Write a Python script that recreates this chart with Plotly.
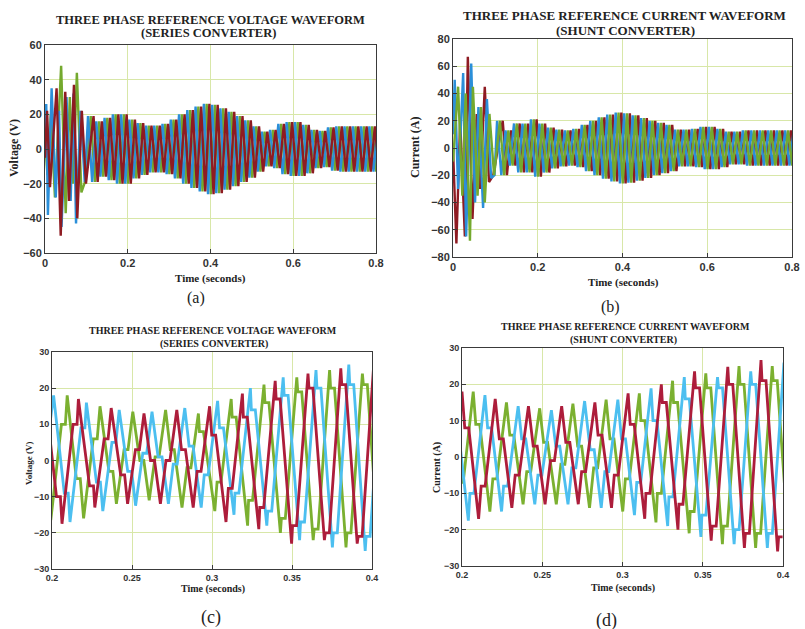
import plotly.graph_objects as go

W, H = 805, 629

# ---------------- data: panels (a) and (b) ----------------
# start-up transient extremes (time s, value) per phase
A_BLUE_T = [0.000, 0.003, 0.007, 0.016, 0.026, 0.034, 0.040, 0.052, 0.062, 0.069, 0.075, 0.086, 0.096]
A_BLUE_V = [0, 26, -38, 35, -28, 22, -45, 30, -30, 32, -43, 22, -19]
A_GREEN_T = [0.000, 0.006, 0.014, 0.024, 0.039, 0.050, 0.060, 0.068, 0.077, 0.088, 0.098]
A_GREEN_V = [5, -15, 20, -28, 48, -37, 30, -20, 44, -25, -18]
A_RED_T = [0.000, 0.005, 0.012, 0.028, 0.038, 0.049, 0.058, 0.070, 0.078, 0.089, 0.099]
A_RED_V = [-5, 22, -22, 35, -50, 33, -30, 37, -40, 22, -20]

B_BLUE_T = [0.000, 0.004, 0.012, 0.024, 0.031, 0.043, 0.052, 0.060, 0.071, 0.080, 0.090, 0.098]
B_BLUE_V = [10, 50, -30, 55, -65, 62, -40, 30, -44, 36, -22, -20]
B_RED_T = [0.000, 0.008, 0.017, 0.028, 0.035, 0.046, 0.056, 0.064, 0.075, 0.085, 0.095]
B_RED_V = [0, -70, 20, -65, 67, -52, 25, -30, 45, -25, -20]
B_GREEN_T = [0.000, 0.012, 0.022, 0.030, 0.040, 0.047, 0.058, 0.066, 0.075, 0.086, 0.097]
B_GREEN_V = [-10, 45, -35, 40, -68, 45, -35, 30, -40, 25, -20]

# steady-state peak amplitude of each 0.02 s cycle, from 0.10 s to 0.80 s
AB_CYCLE_START = 0.10
AB_PERIOD = 0.02
AMP_A = [19, 16, 18, 20, 20, 17, 15, 13.5, 13.5, 14.5, 17, 20, 22.5, 24.5, 26, 25.5, 23.5, 21.5,
         19, 16.5, 13, 10, 11, 14.5, 15.5, 15.5, 14, 11, 10.5, 12.5, 13, 13, 13, 13, 13, 13]
AMP_B = [20, 13, 18, 18, 21, 18, 15, 13.5, 13, 14, 17, 20, 22.5, 24.5, 26, 25.5, 24, 22,
         20, 18.5, 17, 13.5, 13.5, 14, 15.5, 15.5, 14, 12, 12, 13, 13, 13, 13, 13, 13, 13]
AB_OFFSETS = {"blue": 0.004, "green": 0.0107, "red": 0.0173}

# ---------------- data: panels (c) and (d) ----------------
# per cycle (k = -1 .. 9): peak, trough, stall level on falling edge, stall level on rising edge
C_PERIOD = 0.0205
C_T0 = {"green": 0.2095, "red": 0.2165, "cyan": 0.2215}
C_GREEN_P = [18, 18, 15, 13.5, 14, 13, 17, 21, 23, 25, 24]
C_GREEN_Q = [-16.5, -16, -12, -11, -13, -14, -18, -20, -22, -24, -25]
C_GREEN_S1 = [-8, -5, -3, 0, 3, 8, 12, 16, 19, 20, 21]
C_GREEN_S2 = [10, 6, 3, 1, -2, -6, -11, -16, -19, -20, -21]
C_RED_P = [17, 17, 14.5, 13, 14, 15, 18.5, 22, 24, 25.5, 26]
C_RED_Q = [-17.5, -13, -12, -12, -13, -17, -19, -23, -22, -23, -25]
C_RED_S1 = [-10, -7, -4, 0, 3, 7, 12, 17, 20, 21, 21]
C_RED_S2 = [10, 6, 3, 0, -3, -7.7, -13, -18, -20, -21, -21]
C_CYAN_P = [18, 16, 14, 13.5, 14.5, 16.5, 20, 23, 25, 26.5, 26]
C_CYAN_Q = [-17, -14, -12.5, -12, -13, -15, -18, -22, -24, -25, -25]
C_CYAN_S1 = [-9, -6, -3, 1, 4, 9, 14, 18, 20, 21, 22]
C_CYAN_S2 = [9, 5, 2, -1, -4, -9, -14, -17, -20, -21, -22]

D_PERIOD = 0.0207
D_T0 = {"red": 0.2000, "green": 0.2070, "cyan": 0.2143}
D_RED_P = [18, 18, 16, 14, 14, 15, 17.5, 20, 23.6, 24.8, 26.7]
D_RED_Q = [-17, -17, -14, -13, -13, -14, -17, -20, -23, -25, -26]
D_RED_S1 = [9, 8, 5, 3, 4, 6, 9, 15, 19, 20, 21]
D_RED_S2 = [-9, -8, -5, -1, -4, -5, -10, -13, -19, -21, -22]
D_GREEN_P = [17, 18, 15, 13.4, 14.7, 15.8, 17.5, 21, 23, 25, 25]
D_GREEN_Q = [-16.5, -15, -13, -13, -14, -15, -18, -21, -24, -25, -25]
D_GREEN_S1 = [10, 9, 6, 4, 3, 5, 10, 15, 19, 20, 21]
D_GREEN_S2 = [-7, -6, -4, -2, -3, -6, -10, -15, -19, -21, -22]
D_CYAN_P = [17.5, 17, 14, 12.9, 15.4, 15.8, 18.9, 22, 22, 23.6, 26]
D_CYAN_Q = [-17.5, -15, -13, -13, -14, -16, -19, -22, -24, -25, -26]
D_CYAN_S1 = [9, 8, 5, 3, 2, 5, 10, 16, 19, 20, 21]
D_CYAN_S2 = [-10, -8, -5, -3, -4, -7, -11, -16, -20, -21, -22]

# ---------------- text ----------------
TITLE_V = "THREE PHASE REFERENCE VOLTAGE WAVEFORM"
TITLE_I = "THREE PHASE REFERENCE CURRENT WAVEFORM"
SUB_SERIES = "(SERIES CONVERTER)"
SUB_SHUNT = "(SHUNT CONVERTER)"
XLAB = "Time (seconds)"

# ---------------- colours ----------------
AB_COL = {"blue": "#2b8fd9", "green": "#74a92e", "red": "#8e1b22"}
CD_COL = {"cyan": "#4cbff0", "green": "#7bb030", "red": "#ad1d3b"}
GRID = "#d8e7a8"


def ab_wave(tt, tv, amps, off):
    t = list(tt)
    v = list(tv)
    for k, a in enumerate(amps):
        tp = AB_CYCLE_START + off + k * AB_PERIOD
        t += [tp, tp + AB_PERIOD / 2]
        v += [a, -a]
    return t, v


def cd_wave(t0, T, P, Q, S1, S2):
    def clip(x):
        return min(max(x, 0.09), 0.41)
    t, v = [], []
    n = len(P)
    first = t0 - T
    t.append(first - 0.5 * T)
    v.append(Q[0])
    for i in range(n):
        tp = t0 + (i - 1) * T
        p, q, s1, s2 = P[i], Q[i], S1[i], S2[i]
        pn = P[i + 1] if i + 1 < n else p
        c1 = clip(0.5 * (p - s1) / (p - q))
        c2 = clip(0.5 * (s2 - q) / (pn - q))
        t += [tp, tp + (c1 - 0.06) * T, tp + (c1 + 0.06) * T, tp + 0.5 * T,
              tp + (0.5 + c2 - 0.06) * T, tp + (0.5 + c2 + 0.06) * T]
        v += [p, s1, s1, q, s2, s2]
    return t, v


fig = go.Figure()

# panel (a)
for name, tt, tv in [("green", A_GREEN_T, A_GREEN_V), ("blue", A_BLUE_T, A_BLUE_V), ("red", A_RED_T, A_RED_V)]:
    t, v = ab_wave(tt, tv, AMP_A, AB_OFFSETS[name])
    fig.add_trace(go.Scatter(x=t, y=v, mode="lines", line=dict(color=AB_COL[name], width=2.4),
                             xaxis="x", yaxis="y", showlegend=False, hoverinfo="skip"))
# panel (b)
for name, tt, tv in [("red", B_RED_T, B_RED_V), ("blue", B_BLUE_T, B_BLUE_V), ("green", B_GREEN_T, B_GREEN_V)]:
    t, v = ab_wave(tt, tv, AMP_B, AB_OFFSETS[name])
    fig.add_trace(go.Scatter(x=t, y=v, mode="lines", line=dict(color=AB_COL[name], width=2.4),
                             xaxis="x2", yaxis="y2", showlegend=False, hoverinfo="skip"))
# panel (c)
for name, P, Q, S1, S2 in [("green", C_GREEN_P, C_GREEN_Q, C_GREEN_S1, C_GREEN_S2),
                           ("cyan", C_CYAN_P, C_CYAN_Q, C_CYAN_S1, C_CYAN_S2),
                           ("red", C_RED_P, C_RED_Q, C_RED_S1, C_RED_S2)]:
    t, v = cd_wave(C_T0[name], C_PERIOD, P, Q, S1, S2)
    fig.add_trace(go.Scatter(x=t, y=v, mode="lines", line=dict(color=CD_COL[name], width=2.8),
                             xaxis="x3", yaxis="y3", showlegend=False, hoverinfo="skip"))
# panel (d)
for name, P, Q, S1, S2 in [("green", D_GREEN_P, D_GREEN_Q, D_GREEN_S1, D_GREEN_S2),
                           ("cyan", D_CYAN_P, D_CYAN_Q, D_CYAN_S1, D_CYAN_S2),
                           ("red", D_RED_P, D_RED_Q, D_RED_S1, D_RED_S2)]:
    t, v = cd_wave(D_T0[name], D_PERIOD, P, Q, S1, S2)
    fig.add_trace(go.Scatter(x=t, y=v, mode="lines", line=dict(color=CD_COL[name], width=2.8),
                             xaxis="x4", yaxis="y4", showlegend=False, hoverinfo="skip"))


def px(x):
    return x / W


def py(y):
    return 1 - y / H


def axis(domain, rng, dtick, anchor, fsize, tickvals=None, ticktext=None):
    d = dict(domain=domain, range=rng, anchor=anchor, showline=True, linecolor="#3a3a3a",
             linewidth=1, mirror=True, ticks="inside", ticklen=4, tickcolor="#3a3a3a",
             showgrid=True, gridcolor=GRID, gridwidth=1, zeroline=False, automargin=False,
             tickfont=dict(family="Liberation Sans", size=fsize, color="#333333", weight="bold"))
    if tickvals is not None:
        d.update(tickmode="array", tickvals=tickvals, ticktext=ticktext)
    else:
        d.update(dtick=dtick, tick0=rng[0])
    return d


layout = dict(
    width=W, height=H, margin=dict(l=0, r=0, t=0, b=0, pad=0), autosize=False,
    template="none",
    paper_bgcolor="white", plot_bgcolor="white", showlegend=False,
    xaxis=axis([px(45), px(376)], [0, 0.8], 0.2, "y", 11,
               [0, 0.2, 0.4, 0.6, 0.8], ["0", "0.2", "0.4", "0.6", "0.8"]),
    yaxis=axis([py(253), py(45)], [-60, 60], 20, "x", 11),
    xaxis2=axis([px(453), px(792)], [0, 0.8], 0.2, "y2", 11,
                [0, 0.2, 0.4, 0.6, 0.8], ["0", "0.2", "0.4", "0.6", "0.8"]),
    yaxis2=axis([py(257), py(39)], [-80, 80], 20, "x2", 11),
    xaxis3=axis([px(52), px(372)], [0.2, 0.4], 0.05, "y3", 9,
                [0.2, 0.25, 0.3, 0.35, 0.4], ["0.2", "0.25", "0.3", "0.35", "0.4"]),
    yaxis3=axis([py(569), py(352)], [-30, 30], 10, "x3", 9),
    xaxis4=axis([px(462), px(783)], [0.2, 0.4], 0.05, "y4", 9,
                [0.2, 0.25, 0.3, 0.35, 0.4], ["0.2", "0.25", "0.3", "0.35", "0.4"]),
    yaxis4=axis([py(566), py(348)], [-30, 30], 10, "x4", 9),
)
fig.update_layout(**layout)

SERIF = "Liberation Serif"


def note(text, x, y, size, bold=True, angle=0):
    fig.add_annotation(text=text, x=px(x), y=py(y), xref="paper", yref="paper",
                       showarrow=False, xanchor="center", yanchor="middle", textangle=angle,
                       font=dict(family=SERIF, size=size, color="#222222",
                                 weight="bold" if bold else "normal"))


# titles
note(TITLE_V, 210, 20, 12.5)
note(SUB_SERIES, 208, 33, 12.5)
note(TITLE_I, 624, 15, 13)
note(SUB_SHUNT, 625, 31, 13)
note(TITLE_V, 213, 330, 10)
note(SUB_SERIES, 214, 344, 10)
note(TITLE_I, 625, 326, 10)
note(SUB_SHUNT, 623, 340, 10)
# x labels
note(XLAB, 210, 278, 11)
note(XLAB, 623, 283, 11)
note(XLAB, 213, 589, 10)
note(XLAB, 623, 588, 10)
# y labels
note("Voltage (V)", 14, 148, 12, angle=-90)
note("Current (A)", 415, 148, 12, angle=-90)
note("Voltage (V)", 29, 463, 9, angle=-90)
note("Current (A)", 437, 467, 10, angle=-90)
# panel letters
note("(a)", 196, 298, 16, bold=False)
note("(b)", 610, 307, 16, bold=False)
note("(c)", 211, 617, 18, bold=False)
note("(d)", 606, 620, 18, bold=False)

fig.write_html("out.html", config={"displayModeBar": False},
               post_script="document.body.style.margin='0px';document.body.style.overflow='hidden';")
